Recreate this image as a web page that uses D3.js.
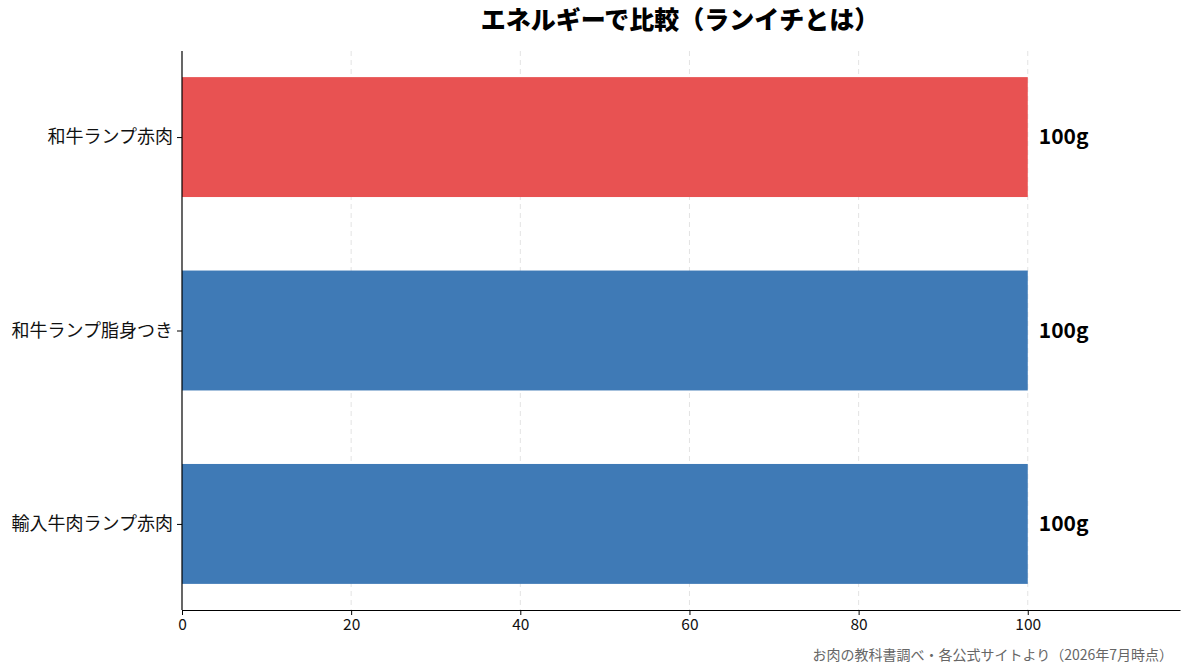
<!DOCTYPE html>
<html>
<head>
  <meta charset="utf-8">
  <title>エネルギーで比較</title>
  <style>
    body { margin: 0; background: #fff; }
    svg { font-family: "Noto Sans CJK JP", "Noto Sans", sans-serif; }
  </style>
</head>
<body>
  <script src="https://d3js.org/d3.v7.min.js"></script>
  <script>
    // Data
    var categories = ["和牛ランプ赤肉", "和牛ランプ脂身つき", "輸入牛肉ランプ赤肉"];
    var values = [100, 100, 100];
    var valueLabels = ["100g", "100g", "100g"];
    var highlight = [true, false, false];
    var xTicks = [0, 20, 40, 60, 80, 100];

    var W = 1193, H = 672;
    var m = { left: 182, right: 1180, top: 51, bottom: 610 };

    var svg = d3.select("body").append("svg")
      .attr("width", W).attr("height", H);

    var x = d3.scaleLinear().domain([0, 118]).range([m.left, m.right]);
    var y = d3.scaleLinear().domain([-0.445, 2.445]).range([m.top, m.bottom]);
    var barH = 0.62;

    // grid
    svg.append("g").selectAll("line")
      .data(xTicks.slice(1))
      .enter().append("line")
      .attr("x1", function (d) { return x(d); })
      .attr("x2", function (d) { return x(d); })
      .attr("y1", m.top).attr("y2", m.bottom)
      .attr("stroke", "#e3e3e3")
      .attr("stroke-dasharray", "5,4")
      .attr("stroke-width", 1);

    // bars
    svg.append("g").selectAll("rect")
      .data(values)
      .enter().append("rect")
      .attr("x", x(0))
      .attr("y", function (d, i) { return y(i - barH / 2); })
      .attr("width", function (d) { return x(d) - x(0); })
      .attr("height", function (d, i) { return y(i + barH / 2) - y(i - barH / 2); })
      .attr("fill", function (d, i) { return highlight[i] ? "#e85252" : "#3f7ab6"; });

    // value labels
    svg.append("g").selectAll("text")
      .data(values)
      .enter().append("text")
      .attr("x", function (d) { return x(d) + 11; })
      .attr("y", function (d, i) { return y(i); })
      .attr("dy", "0.35em")
      .attr("font-size", 21)
      .attr("font-weight", "bold")
      .text(function (d, i) { return valueLabels[i]; });

    // x axis
    var xAxis = svg.append("g")
      .attr("transform", "translate(0," + m.bottom + ")")
      .call(d3.axisBottom(x).tickValues(xTicks).tickSize(5).tickSizeOuter(0).tickPadding(4));
    xAxis.select(".domain").attr("stroke", "#000").attr("stroke-width", 1.2);
    xAxis.selectAll("text").attr("font-size", 15.5).attr("fill", "#111")
      .style("font-family", "'Noto Sans CJK JP', sans-serif");

    // y axis
    var yAxis = svg.append("g")
      .attr("transform", "translate(" + m.left + ",0)")
      .call(d3.axisLeft(y).tickValues([0, 1, 2])
        .tickFormat(function (d) { return categories[d]; })
        .tickSize(5).tickPadding(4));
    yAxis.select(".domain").attr("d", "M0," + m.top + "V" + m.bottom)
      .attr("stroke", "#000").attr("stroke-width", 1.2);
    yAxis.selectAll("text").attr("font-size", 18).attr("fill", "#111")
      .style("font-family", "'Noto Sans CJK JP', sans-serif");

    // title
    svg.append("text")
      .attr("x", 680).attr("y", 20)
      .attr("dy", "0.35em")
      .attr("text-anchor", "middle")
      .attr("font-size", 25)
      .attr("font-weight", "900")
      .text("エネルギーで比較（ランイチとは）");

    // source
    svg.append("text")
      .attr("x", 1173).attr("y", 655)
      .attr("dy", "0.35em")
      .attr("text-anchor", "end")
      .attr("font-size", 14)
      .attr("fill", "#666")
      .text("お肉の教科書調べ・各公式サイトより（2026年7月時点）");
  </script>
</body>
</html>
